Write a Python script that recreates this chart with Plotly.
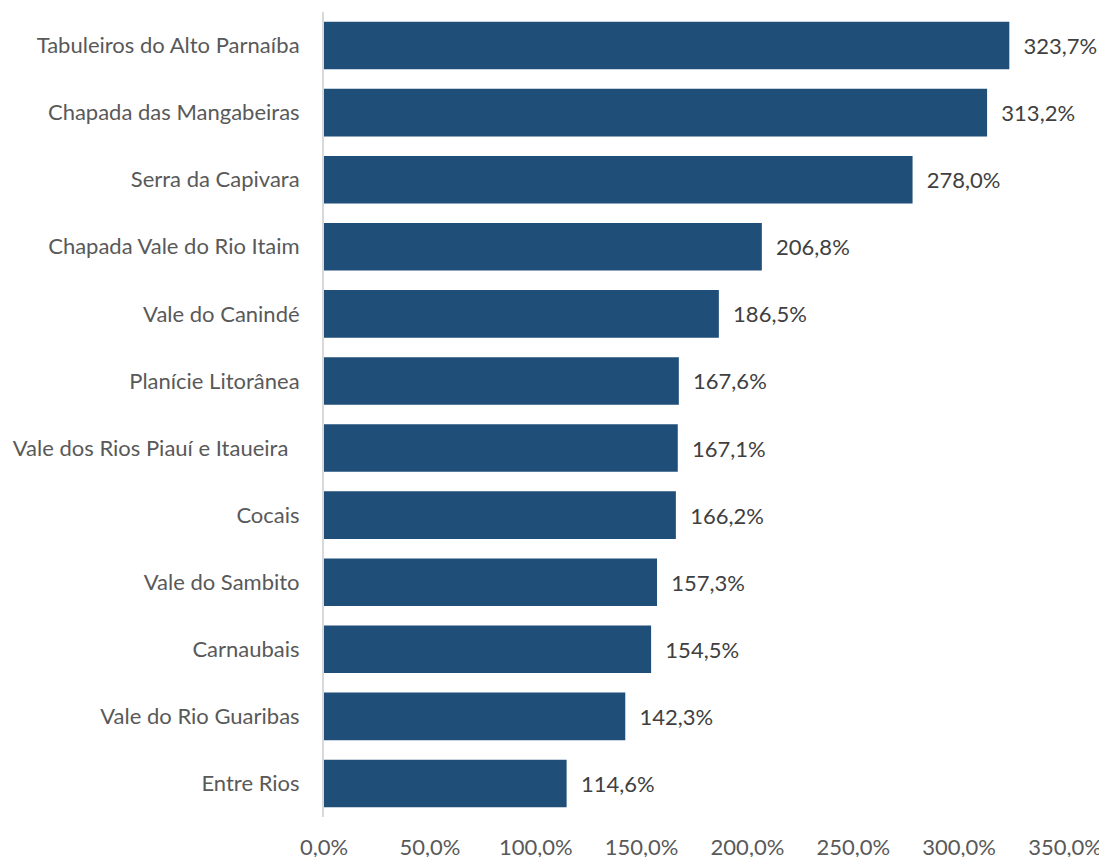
import plotly.graph_objects as go

categories = [
    "Tabuleiros do Alto Parnaíba",
    "Chapada das Mangabeiras",
    "Serra da Capivara",
    "Chapada Vale do Rio Itaim",
    "Vale do Canindé",
    "Planície Litorânea",
    "Vale dos Rios Piauí e Itaueira\u00a0\u00a0",
    "Cocais",
    "Vale do Sambito",
    "Carnaubais",
    "Vale do Rio Guaribas",
    "Entre Rios",
]
values = [323.7, 313.2, 278.0, 206.8, 186.5, 167.6, 167.1, 166.2, 157.3, 154.5, 142.3, 114.6]
tick_vals = [0, 50, 100, 150, 200, 250, 300, 350]


def pct(v):
    return f"{v:.1f}".replace(".", ",") + "%"


FONT = "Lato"
TXT = "#595959"
SIZE = 22

fig = go.Figure(
    go.Bar(
        x=values,
        y=categories,
        orientation="h",
        marker=dict(color="#1F4E79", line=dict(width=0)),
        width=0.71,
        text=["\u00a0\u00a0" + pct(v) for v in values],
        textposition="outside",
        textfont=dict(family=FONT, size=SIZE, color="#404040"),
        cliponaxis=False,
    )
)

fig.update_layout(
    width=1099,
    height=857,
    margin=dict(l=324, r=34, t=12, b=40, autoexpand=False),
    paper_bgcolor="white",
    plot_bgcolor="white",
    showlegend=False,
    uniformtext=dict(mode=False),
    font=dict(family=FONT, size=SIZE, color=TXT),
)

fig.update_xaxes(
    range=[0, 350],
    tickvals=tick_vals,
    ticktext=[pct(v) for v in tick_vals],
    showgrid=False,
    zeroline=False,
    showline=False,
    ticks="outside",
    ticklen=0,
    ticklabelstandoff=11,
    ticklabeloverflow="allow",
    tickfont=dict(family=FONT, size=SIZE, color=TXT),
    automargin=False,
    fixedrange=True,
)

fig.update_yaxes(
    autorange="reversed",
    showgrid=False,
    zeroline=False,
    showline=True,
    linecolor="#D9D9D9",
    linewidth=2,
    ticks="",
    ticklabelstandoff=18,
    tickfont=dict(family=FONT, size=SIZE, color=TXT),
    automargin=False,
    fixedrange=True,
)

fig.write_html(
    "out.html",
    config={"displayModeBar": False, "staticPlot": True},
    post_script="document.body.style.margin='0';document.body.style.overflow='hidden';",
)
